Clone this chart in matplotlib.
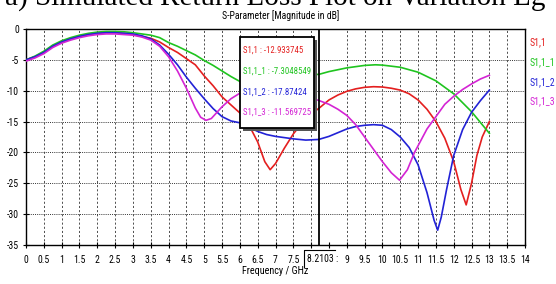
import matplotlib
matplotlib.use("Agg")
import matplotlib.pyplot as plt
from matplotlib import font_manager
import numpy as np

# ---------------- data ----------------
series_names = ["S1,1", "S1,1_1", "S1,1_2", "S1,1_3"]
marker_freq = 8.2103
marker_values = ["-12.933745", "-7.3048549", "-17.87424", "-11.569725"]

low_f = [0, 0.25, 0.5, 0.75, 1.0, 1.25, 1.5, 1.75, 2.0, 2.25, 2.5, 2.75]

red_f = low_f + [3.0, 3.25, 3.5, 3.75, 4.0, 4.25, 4.5, 4.75, 5.0, 5.25, 5.5, 5.75, 6.0, 6.25,
                 6.5, 6.7, 6.85, 7.0, 7.25, 7.5, 7.75, 8.0, 8.25, 8.5, 8.75, 9.0, 9.25, 9.5,
                 9.75, 10.0, 10.25, 10.5, 10.75, 11.0, 11.25, 11.5, 11.75, 12.0, 12.2, 12.35,
                 12.5, 12.65, 12.8, 13.0]
red_db = [-5.0, -4.5, -3.8, -2.8, -2.1, -1.6, -1.2, -0.9, -0.7, -0.6, -0.6, -0.7,
          -0.9, -1.2, -1.5, -2.1, -3.0, -3.8, -4.8, -5.8, -7.6, -9.2, -11.0, -12.3, -13.6,
          -15.5, -18.3, -21.5, -22.8, -21.8, -19.3, -17.0, -15.2, -13.8, -12.7, -11.5,
          -10.7, -10.1, -9.7, -9.45, -9.35, -9.4, -9.6, -9.9, -10.5, -11.5, -13.0, -15.0,
          -17.7, -21.5, -26.0, -28.5, -25.0, -20.5, -17.5, -15.0]

green_f = low_f + [3.0, 3.25, 3.5, 3.75, 4.0, 4.25, 4.5, 4.75, 5.0, 5.25, 5.5, 5.75, 6.0,
                   6.25, 6.5, 6.75, 7.0, 7.5, 8.0, 8.25, 8.5, 9.0, 9.5, 9.8, 10.0, 10.5,
                   11.0, 11.5, 12.0, 12.5, 13.0]
green_db = [-5.0, -4.4, -3.6, -2.6, -1.9, -1.4, -1.0, -0.7, -0.5, -0.4, -0.4, -0.45,
            -0.6, -0.8, -1.0, -1.4, -2.2, -2.8, -3.5, -4.2, -5.1, -5.9, -6.8, -7.7, -8.5,
            -8.8, -8.9, -8.8, -8.5, -7.9, -7.5, -7.3, -6.9, -6.3, -5.9, -5.8, -5.85, -6.2,
            -7.0, -8.4, -10.5, -13.4, -16.9]

blue_f = low_f + [3.0, 3.25, 3.5, 3.75, 4.0, 4.25, 4.5, 4.75, 5.0, 5.25, 5.5, 5.75, 6.0,
                  6.25, 6.5, 6.75, 7.0, 7.5, 7.85, 8.21, 8.5, 8.75, 9.0, 9.25, 9.5, 9.75,
                  10.0, 10.25, 10.5, 10.75, 11.0, 11.25, 11.45, 11.55, 11.65, 11.8, 12.0,
                  12.25, 12.5, 12.75, 13.0]
blue_db = [-5.0, -4.5, -3.8, -2.8, -2.1, -1.6, -1.2, -0.9, -0.7, -0.6, -0.6, -0.7,
           -0.8, -1.1, -1.6, -2.6, -4.1, -5.8, -7.8, -9.6, -11.3, -12.9, -14.2, -14.9,
           -15.2, -15.9, -16.6, -17.1, -17.4, -17.8, -18.0, -17.9, -17.4, -16.8, -16.2,
           -15.8, -15.6, -15.5, -15.6, -16.3, -17.5, -19.2, -22.0, -26.5, -31.0, -32.6,
           -30.5, -26.0, -20.5, -16.3, -13.5, -11.6, -9.9]

mag_f = low_f + [3.0, 3.25, 3.5, 3.75, 4.0, 4.25, 4.5, 4.75, 4.9, 5.05, 5.2, 5.5, 5.75,
                 6.0, 6.25, 6.5, 6.75, 7.0, 7.5, 8.0, 8.21, 8.5, 8.75, 9.0, 9.25, 9.5,
                 9.75, 10.0, 10.25, 10.48, 10.7, 10.9, 11.25, 11.5, 11.75, 12.0, 12.25,
                 12.5, 12.75, 13.0]
mag_db = [-5.2, -4.7, -4.0, -3.0, -2.3, -1.8, -1.4, -1.1, -0.9, -0.8, -0.8, -0.9,
          -1.0, -1.3, -1.8, -2.8, -4.5, -6.8, -9.6, -12.8, -14.3, -14.8, -14.5, -12.6,
          -11.3, -10.4, -10.0, -9.9, -10.0, -10.2, -10.6, -11.2, -11.57, -12.2, -13.0,
          -14.0, -15.5, -17.5, -19.5, -21.5, -23.3, -24.5, -22.8, -20.0, -16.2, -14.2,
          -12.2, -10.9, -9.8, -8.9, -8.1, -7.5]

x_ticks = [i * 0.5 for i in range(29)]
x_tick_labels = ["0", "0.5", "1", "1.5", "2", "2.5", "3", "3.5", "4", "4.5", "5", "5.5",
                 "6", "6.5", "7", "7.5", "", "", "9", "9.5", "10", "10.5", "11", "11.5",
                 "12", "12.5", "13", "13.5", "14"]
y_ticks = [0, -5, -10, -15, -20, -25, -30, -35]

colors = ["#e41f1f", "#1fc41f", "#2222d6", "#d424d4"]

# ---------------- font choice ----------------
available = {f.name for f in font_manager.fontManager.ttflist}
narrow_name = None
for cand in ["Liberation Sans Narrow", "DejaVu Sans Condensed", "Roboto Condensed",
             "Open Sans Condensed", "Noto Sans Condensed", "Arial Narrow"]:
    if cand in available:
        narrow_name = cand
        break
if narrow_name is None:
    narrow_name = "Liberation Sans"
    FS = 6.3
else:
    FS = 7.0
NARROW = [narrow_name, "DejaVu Sans"]

# ---------------- plot ----------------
fig = plt.figure(figsize=(5.56, 2.84), dpi=100)
W, H = 556, 284
ax = fig.add_axes([26 / W, 1 - 245 / H, (525 - 26) / W, (245 - 29) / H])

ax.set_xlim(0, 14)
ax.set_ylim(-35, 0)

for xv in x_ticks[1:-1]:
    if abs(xv - 8.5) < 1e-6:
        continue
    ax.axvline(xv, color="#333333", lw=0.6, ls=(0, (2.5, 2.5)), zorder=1)
for yv in y_ticks[1:-1]:
    ax.axhline(yv, color="#333333", lw=0.7, ls=(0, (1, 1.2)), zorder=1)

for f, d, c in zip([red_f, green_f, blue_f, mag_f], [red_db, green_db, blue_db, mag_db], colors):
    ax.plot(f, d, color=c, lw=1.2, zorder=3, solid_joinstyle="round")

# marker line
ax.axvline(marker_freq, color="black", lw=1.3, zorder=4)

ax.set_xticks(x_ticks)
ax.set_xticklabels(x_tick_labels, family=NARROW, fontsize=FS)
ax.set_yticks(y_ticks)
ax.set_yticklabels([str(v) for v in y_ticks], family=NARROW, fontsize=FS)
ax.tick_params(axis="both", direction="inout", length=4, width=0.8, pad=3)
ax.tick_params(axis="x", pad=5)
for s in ax.spines.values():
    s.set_linewidth(1.0)

# marker tick label with bracket
trans = ax.get_xaxis_transform()
ax.text(marker_freq + 0.1, -0.04, "8.2103 :", transform=trans, ha="center", va="top",
        family=NARROW, fontsize=FS, clip_on=False)
ax.plot([marker_freq - 0.4, marker_freq - 0.4, marker_freq + 0.45],
        [-0.1, -0.025, -0.025], transform=trans, color="black", lw=0.8, clip_on=False)

ax.set_xlabel("Frequency / GHz", family=NARROW, fontsize=FS + 0.3, labelpad=1)

# title lines
fig.text(0.505, 1 - 16 / H, "S-Parameter [Magnitude in dB]", ha="center", va="center",
         family=NARROW, fontsize=FS)
fig.text(0.495, 1 - 5 / H, "a) Simulated Return Loss Plot on Variation Lg", ha="center",
         va="baseline", family=["Liberation Serif", "DejaVu Serif"], fontsize=21)

# marker annotation box
box_l, box_t, box_r, box_b = 240, 37, 314, 128
shadow = plt.Rectangle(((box_l + 3) / W, 1 - (box_b + 3) / H), (box_r - box_l) / W,
                       (box_b - box_t) / H, transform=fig.transFigure, facecolor="#555555",
                       edgecolor="none", zorder=5)
box = plt.Rectangle((box_l / W, 1 - box_b / H), (box_r - box_l) / W, (box_b - box_t) / H,
                    transform=fig.transFigure, facecolor="white", edgecolor="black",
                    lw=1.3, zorder=6)
fig.add_artist(shadow)
fig.add_artist(box)
line_y = [50, 71, 92, 112]
for name, val, c, yy in zip(series_names, marker_values, colors, line_y):
    fig.text((box_l + 3) / W, 1 - yy / H, f"{name} : {val}", color=c, ha="left",
             va="center", family=NARROW, fontsize=FS - 0.7, zorder=7)

# right legend
leg_y = [42, 62, 82, 101]
for name, c, yy in zip(series_names, colors, leg_y):
    fig.text(530 / W, 1 - yy / H, name, color=c, ha="left", va="center",
             family=NARROW, fontsize=FS)

fig.savefig("out.png", dpi=100)
